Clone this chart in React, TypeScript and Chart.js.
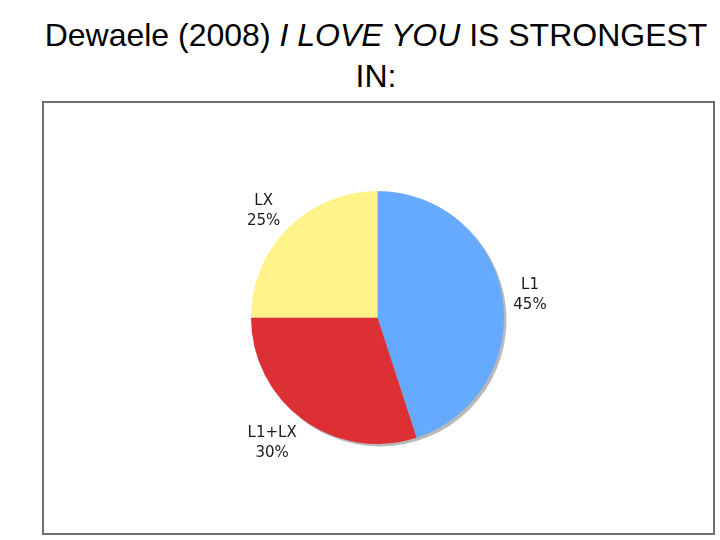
import React, { useEffect, useRef } from "react";
import { Chart, registerables } from "chart.js";

Chart.register(...registerables);

const categories = ["L1", "L1+LX", "LX"];
const shares = [45, 30, 25];

const sliceColors = ["#66aaff", "#dd3035", "#fff38a"];

const shadowPlugin = {
  id: "pieShadow",
  beforeDatasetsDraw(chart: any) {
    const meta = chart.getDatasetMeta(0);
    const arc = meta.data[0];
    if (!arc) return;
    const { x, y, outerRadius } = arc.getProps(["x", "y", "outerRadius"], true);
    const ctx = chart.ctx;
    ctx.save();
    ctx.fillStyle = "#b9b9b9";
    ctx.beginPath();
    ctx.arc(x + 2.5, y + 2.5, outerRadius, 0, Math.PI * 2);
    ctx.fill();
    ctx.restore();
  },
};

const labelPlugin = {
  id: "outerLabels",
  afterDatasetsDraw(chart: any) {
    const meta = chart.getDatasetMeta(0);
    const ctx = chart.ctx;
    const data = chart.data.datasets[0].data as number[];
    const total = data.reduce((a, b) => a + b, 0);
    ctx.save();
    ctx.font = '15px "DejaVu Sans"';
    ctx.fillStyle = "#1a1a1a";
    ctx.textAlign = "center";
    ctx.textBaseline = "alphabetic";
    meta.data.forEach((arc: any, i: number) => {
      const { x, y, startAngle, endAngle, outerRadius } = arc.getProps(
        ["x", "y", "startAngle", "endAngle", "outerRadius"],
        true
      );
      const mid = (startAngle + endAngle) / 2;
      const cos = Math.cos(mid);
      const sin = Math.sin(mid);
      const d = outerRadius + 11;
      const px = x + cos * d;
      const py = y + sin * d;
      const line1 = String(chart.data.labels[i]);
      const line2 = Math.round((data[i] / total) * 100) + "%";
      const w = Math.max(ctx.measureText(line1).width, ctx.measureText(line2).width);
      const h = 31;
      const cx = cos >= 0 ? px + w / 2 : px - w / 2;
      const cy = py + (h / 2) * sin;
      const top = cy - h / 2;
      ctx.fillText(line1, cx, top + 11);
      ctx.fillText(line2, cx, top + 31);
    });
    ctx.restore();
  },
};

export default function App() {
  const canvasRef = useRef<HTMLCanvasElement | null>(null);

  useEffect(() => {
    if (!canvasRef.current) return;
    const chart = new Chart(canvasRef.current, {
      type: "pie",
      data: {
        labels: categories,
        datasets: [
          {
            data: shares,
            backgroundColor: sliceColors,
            borderWidth: 0,
          },
        ],
      },
      options: {
        responsive: false,
        animation: false,
        devicePixelRatio: 1,
        layout: {
          padding: { left: 251, right: 216, top: 191, bottom: 96 },
        },
        plugins: {
          legend: { display: false },
          tooltip: { enabled: false },
          title: { display: false },
        },
      },
      plugins: [shadowPlugin, labelPlugin],
    });
    return () => chart.destroy();
  }, []);

  return (
    <div
      style={{
        position: "fixed",
        left: 0,
        top: 0,
        width: 720,
        height: 540,
        background: "#ffffff",
        overflow: "hidden",
      }}
    >
      <div
        style={{
          position: "absolute",
          left: 0,
          top: 15,
          width: 752,
          textAlign: "center",
          fontFamily: '"Liberation Sans", Arial, sans-serif',
          fontSize: 32,
          lineHeight: "41px",
          color: "#000000",
          whiteSpace: "nowrap",
        }}
      >
        Dewaele (2008) <i>I LOVE YOU</i> IS STRONGEST
        <br />
        IN:
      </div>
      <div
        style={{
          position: "absolute",
          left: 42,
          top: 101,
          width: 669,
          height: 430,
          border: "2px solid #707070",
        }}
      />
      <canvas
        ref={canvasRef}
        width={720}
        height={540}
        style={{ position: "absolute", left: 0, top: 0, width: 720, height: 540 }}
      />
    </div>
  );
}
